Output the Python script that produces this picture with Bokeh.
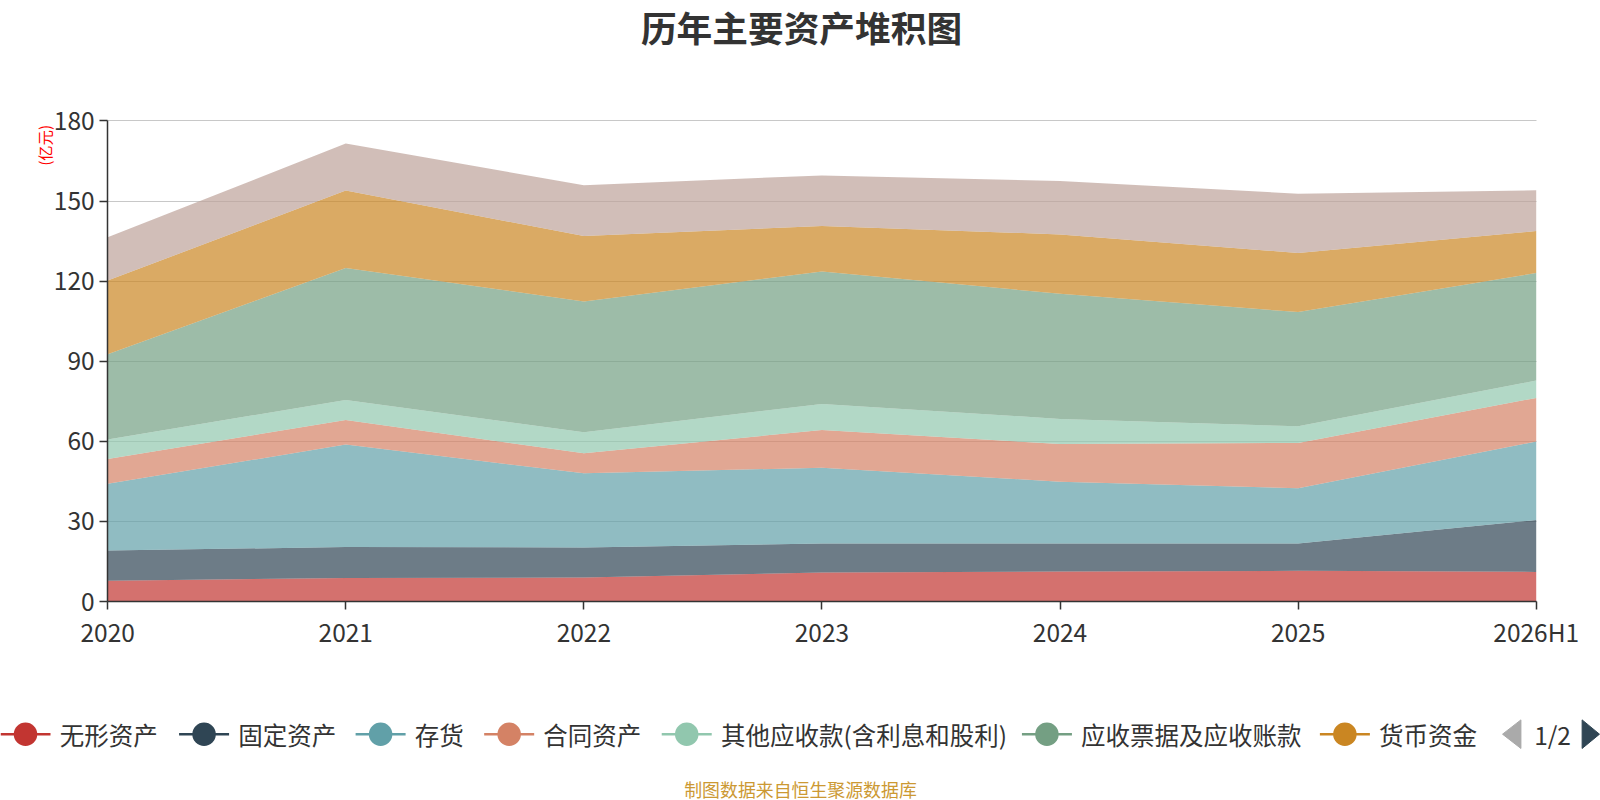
from bokeh.plotting import figure
from bokeh.models import ColumnDataSource, Range1d, FixedTicker
from bokeh.embed import file_html
from bokeh.resources import INLINE
from bokeh.core.properties import value
import math

# ---------------- data ----------------
periods = ["2020", "2021", "2022", "2023", "2024", "2025", "2026H1"]
intangible = [7.8, 8.8, 9.0, 10.9, 11.25, 11.5, 11.1]          # 无形资产
fixed_assets = [11.3, 11.6, 11.25, 10.85, 10.5, 10.25, 19.4]    # 固定资产
inventory = [25.0, 38.4, 27.75, 28.35, 23.15, 20.65, 29.4]      # 存货
contract_assets = [9.3, 9.2, 7.5, 14.15, 14.1, 17.0, 16.35]     # 合同资产
other_recv = [7.3, 7.5, 7.9, 9.75, 9.4, 6.2, 6.5]               # 其他应收款(含利息和股利)
notes_recv = [31.9, 49.4, 49.0, 49.6, 46.85, 42.8, 40.25]       # 应收票据及应收账款
cash = [27.6, 29.0, 24.5, 17.0, 22.25, 22.1, 15.75]             # 货币资金
other_top = [16.2, 17.6, 19.0, 19.0, 20.0, 22.25, 15.25]        # 第8项(图例第2页)

series_names = ["无形资产", "固定资产", "存货", "合同资产", "其他应收款(含利息和股利)",
                "应收票据及应收账款", "货币资金", "其他资产"]
series_values = [intangible, fixed_assets, inventory, contract_assets, other_recv,
                 notes_recv, cash, other_top]
colors = ["#c23531", "#2f4554", "#61a0a8", "#d48265", "#91c7ae", "#749f83", "#ca8622", "#bda29a"]
y_ticks = [0, 30, 60, 90, 120, 150, 180]
y_max = 180
legend_count = 7
pager_text = "1/2"
title_text = "历年主要资产堆积图"
unit_text = "(亿元)"
footer_text = "制图数据来自恒生聚源数据库"

FONT = "Noto Sans CJK SC"
W, H = 1630, 814
SHOT = 0.98          # picture pixels per CSS pixel, as observed
S = 1 / SHOT


def fs(px):
    return f"{px * S:.1f}px"


# ---------------- layout (picture pixels) ----------------
PLOT_L, PLOT_R, PLOT_T, PLOT_B = 105, 1505, 118, 589
n = len(periods) - 1
ppx = (PLOT_R - PLOT_L) / n
ppy = (PLOT_B - PLOT_T) / y_max


def dx(px):
    return (px - PLOT_L) / ppx


def dy(py):
    return (PLOT_B - py) / ppy


p = figure(width=W, height=H, output_backend="svg", toolbar_location=None,
           x_range=Range1d(dx(0), dx(W * SHOT)),
           y_range=Range1d(dy(H * SHOT), dy(0)),
           min_border=0, min_border_left=0, min_border_right=0,
           min_border_top=0, min_border_bottom=0)
p.outline_line_color = None
p.background_fill_color = "white"
p.border_fill_color = "white"

# stacked areas
src = {"x": list(range(len(periods)))}
keys = []
for i, vals in enumerate(series_values):
    k = f"s{i}"
    keys.append(k)
    src[k] = vals
source = ColumnDataSource(src)
p.varea_stack(stackers=keys, x="x", color=colors, fill_alpha=0.7, source=source)

# axes pinned at the data origin
p.xaxis.ticker = FixedTicker(ticks=list(range(len(periods))))
p.xaxis.major_label_overrides = {i: t for i, t in enumerate(periods)}
p.yaxis.ticker = FixedTicker(ticks=y_ticks)
p.xaxis.fixed_location = 0
p.yaxis.fixed_location = 0
p.xaxis.bounds = (0, n)
p.yaxis.bounds = (0, y_max)
for ax in (p.xaxis, p.yaxis):
    ax.axis_line_color = "#333333"
    ax.axis_line_width = 1.5
    ax.major_tick_line_color = "#333333"
    ax.major_tick_line_width = 1.5
    ax.major_tick_out = 8
    ax.major_tick_in = 0
    ax.minor_tick_line_color = None
    ax.major_label_text_font = FONT
    ax.major_label_text_font_size = fs(24)
    ax.major_label_text_color = "#333333"
p.yaxis.major_label_standoff = 5
p.xaxis.major_label_standoff = 4
p.xgrid.grid_line_color = None
p.ygrid.grid_line_color = "#c8c8c8"
p.ygrid.grid_line_width = 1.2
p.ygrid.cross_bounds = (0, n)
p.ygrid.bounds = (0, y_max)

# title, unit, footer
p.text(x=[dx(785)], y=[dy(25)], text=[title_text], text_font=value(FONT), text_font_size=fs(35),
       text_font_style="bold", text_color="#333333", text_align="center", text_baseline="middle")
p.text(x=[dx(43)], y=[dy(142)], text=[unit_text], angle=math.pi / 2, text_font=value(FONT),
       text_font_size=fs(15), text_color="#ff0000", text_align="center", text_baseline="middle")
p.text(x=[dx(784)], y=[dy(773)], text=[footer_text], text_font=value(FONT), text_font_size=fs(17.5),
       text_color="#cc9933", text_align="center", text_baseline="middle")

# legend (page 1 of 2)
LEG_Y = 719
line_starts = [0, 175, 348, 474, 648, 1001, 1293]
for i in range(legend_count):
    x0 = line_starts[i]
    p.segment(x0=[dx(x0)], y0=[dy(LEG_Y)], x1=[dx(x0 + 49)], y1=[dy(LEG_Y)],
              line_color=colors[i], line_width=2.5)
    p.scatter(x=[dx(x0 + 24.5)], y=[dy(LEG_Y)], size=23 * S, marker="circle",
              fill_color=colors[i], line_color=None)
    p.text(x=[dx(x0 + 58)], y=[dy(LEG_Y)], text=[series_names[i]], text_font=value(FONT),
           text_font_size=fs(24), text_color="#333333", text_baseline="middle", text_align="left")

# pager
p.patch(x=[dx(1490), dx(1472), dx(1490)], y=[dy(705), dy(LEG_Y), dy(733)], color="#aaaaaa")
p.text(x=[dx(1503)], y=[dy(LEG_Y)], text=[pager_text], text_font=value(FONT), text_font_size=fs(24),
       text_color="#333333", text_baseline="middle", text_align="left")
p.patch(x=[dx(1550), dx(1567), dx(1550)], y=[dy(705), dy(LEG_Y), dy(733)], color="#2f4554")

open("out.html", "w").write(file_html(p, INLINE))
